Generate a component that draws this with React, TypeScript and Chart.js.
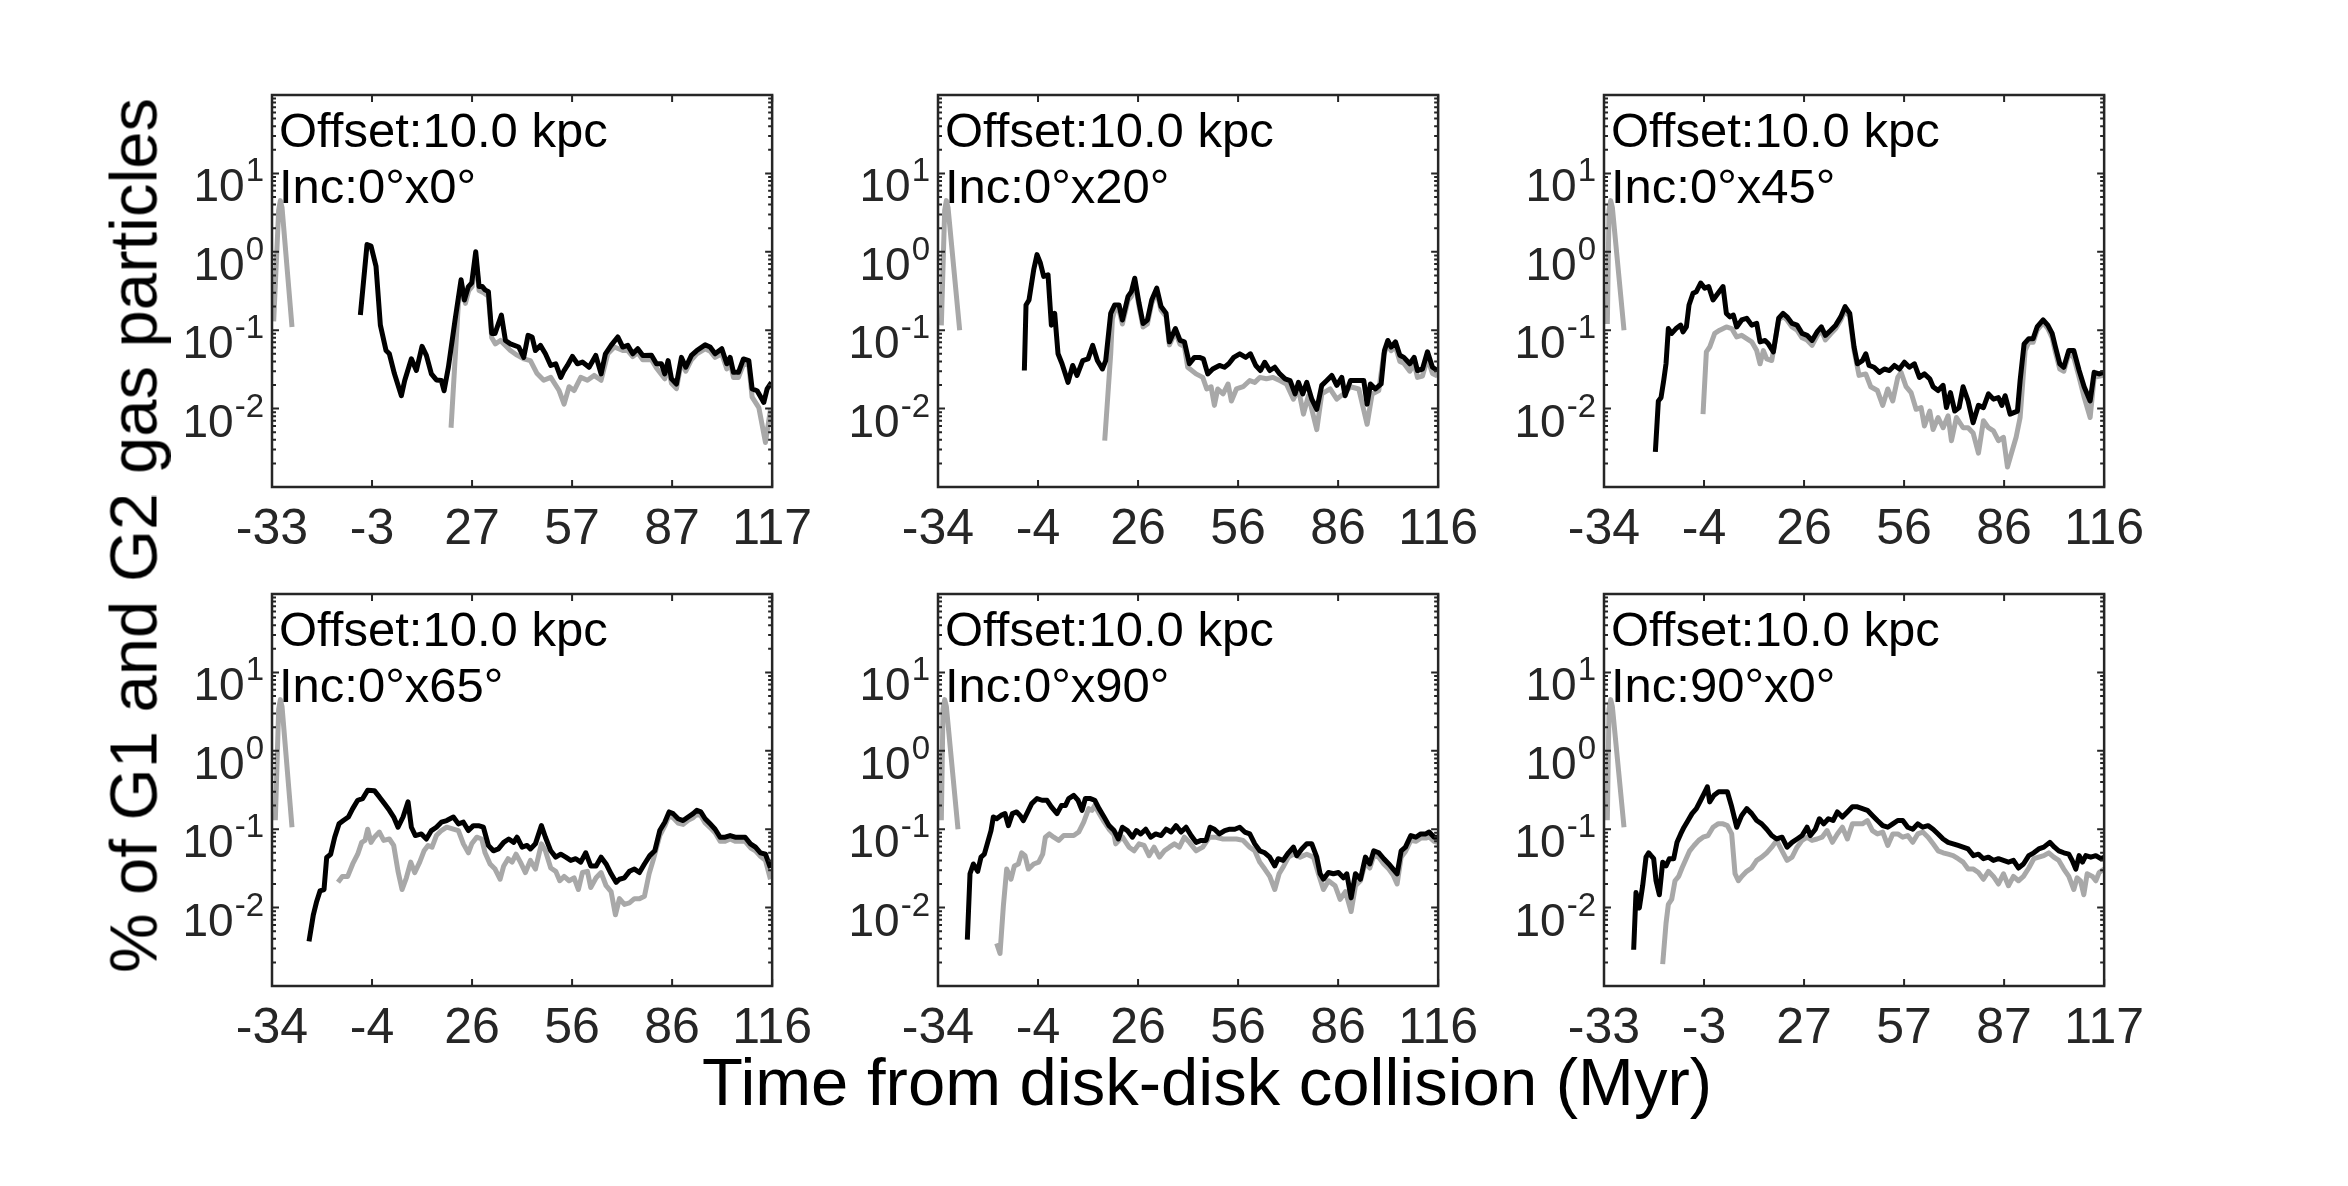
import React, { useEffect, useRef } from 'react';
import { Chart, registerables } from 'chart.js';

Chart.register(...registerables);

type P = [number, number];

const FONT = '"Liberation Sans", Arial, Helvetica, sans-serif';
const AXIS_COLOR = '#262626';
const BLACK = '#000000';
const GRAY = '#a8a8a8';

const X_TITLE = 'Time from disk-disk collision (Myr)';
const Y_TITLE = '% of G1 and G2 gas particles';
const OFFSET_TEXT = 'Offset:10.0 kpc';
const INC_TEXTS = ['Inc:0°x0°', 'Inc:0°x20°', 'Inc:0°x45°', 'Inc:0°x65°', 'Inc:0°x90°', 'Inc:90°x0°'];

const X_TICKS_A = [-33, -3, 27, 57, 87, 117];
const X_TICKS_B = [-34, -4, 26, 56, 86, 116];
const Y_TICKS = [0.01, 0.1, 1, 10];
const Y_TICK_EXP = ['-2', '-1', '0', '1'];
const Y_MIN = 0.001;
const Y_MAX = 100;

// ---------- Panel 1: Inc 0x0 ----------
const P1_BLACK: P[] = [[-6.5,0.156],[-4.5,1.24],[-3.3,1.18],[-1.8,0.65],[-0.5,0.116],[1.2,0.055],[2.2,0.05],[3.7,0.028],[5.8,0.0146],[6.8,0.0228],[8.8,0.0432],[10.3,0.0306],[12.0,0.0622],[13.3,0.0477],[14.8,0.0277],[16.3,0.0232],[17.8,0.0228],[18.6,0.0169],[19.9,0.0337],[21.9,0.135],[23.7,0.44],[24.7,0.243],[25.9,0.36],[26.9,0.4],[28.1,1.0],[29.1,0.36],[30.1,0.36],[30.9,0.327],[31.9,0.31],[32.9,0.091],[33.9,0.091],[35.8,0.156],[37.0,0.074],[38.5,0.067],[41.0,0.061],[42.5,0.045],[43.8,0.086],[45.0,0.082],[46.0,0.055],[47.5,0.064],[49.0,0.05],[50.6,0.0355],[52.1,0.0373],[53.6,0.025],[54.6,0.0306],[55.6,0.0355],[57.1,0.0463],[58.6,0.0373],[60.1,0.0392],[62.1,0.0337],[64.1,0.0477],[65.7,0.0277],[67.0,0.05],[68.7,0.064],[70.7,0.082],[72.2,0.061],[73.7,0.064],[75.2,0.05],[76.7,0.058],[78.2,0.0477],[80.8,0.048],[82.3,0.0373],[83.8,0.0373],[84.8,0.0277],[85.8,0.041],[86.8,0.024],[88.3,0.0206],[89.8,0.045],[91.1,0.0337],[92.8,0.0477],[94.4,0.055],[96.9,0.065],[98.4,0.061],[99.9,0.05],[101.9,0.058],[103.4,0.0373],[104.4,0.045],[105.4,0.029],[106.9,0.029],[108.4,0.043],[110.0,0.041],[111.0,0.0178],[112.5,0.0169],[114.5,0.012],[115.5,0.0178],[116.8,0.0216]];
const P1_GRAY_EARLY: P[] = [[-32.5,0.13],[-31.0,3.4],[-30.5,4.5],[-30.0,3.7],[-27.0,0.11]];
const P1_GRAY: P[] = [[20.7,0.0057],[22.9,0.22],[24.0,0.36],[25.0,0.22],[26.0,0.32],[27.0,0.36],[28.1,0.85],[29.1,0.32],[30.5,0.3],[31.9,0.27],[32.9,0.08],[34.0,0.067],[35.5,0.074],[38.5,0.055],[40.5,0.048],[42.5,0.043],[44.5,0.041],[46.5,0.028],[48.5,0.023],[50.6,0.025],[53.1,0.017],[54.6,0.0114],[56.1,0.019],[57.6,0.017],[59.6,0.025],[61.6,0.023],[63.6,0.0265],[65.7,0.023],[67.7,0.05],[69.7,0.061],[72.2,0.055],[73.7,0.055],[75.2,0.046],[76.7,0.052],[78.2,0.042],[80.8,0.042],[82.3,0.033],[84.8,0.024],[85.8,0.035],[86.8,0.021],[88.3,0.018],[89.8,0.04],[91.1,0.03],[92.8,0.042],[94.4,0.05],[96.9,0.058],[98.4,0.054],[99.9,0.045],[101.9,0.05],[103.4,0.032],[104.4,0.04],[105.4,0.025],[106.9,0.025],[108.4,0.037],[110.0,0.036],[111.0,0.014],[113.0,0.0103],[115.0,0.0037],[116.5,0.0098]];

// ---------- Panel 2: Inc 0x20 ----------
const P2_BLACK: P[] = [[-8.1,0.0306],[-7.6,0.21],[-6.7,0.243],[-5.3,0.59],[-4.3,0.92],[-3.3,0.72],[-2.3,0.486],[-1.0,0.51],[0.0,0.116],[1.0,0.164],[2.0,0.05],[3.2,0.0373],[5.0,0.0216],[6.4,0.0355],[7.7,0.0265],[9.4,0.041],[11.0,0.043],[12.4,0.064],[13.8,0.041],[15.3,0.032],[16.3,0.041],[17.8,0.164],[19.0,0.21],[20.3,0.21],[21.3,0.135],[23.0,0.27],[24.0,0.31],[25.0,0.46],[26.3,0.22],[27.5,0.122],[28.8,0.135],[30.1,0.243],[31.6,0.344],[32.9,0.2],[34.4,0.164],[35.4,0.071],[37.2,0.105],[38.6,0.074],[39.9,0.071],[41.4,0.0373],[42.9,0.045],[44.4,0.045],[45.6,0.043],[46.9,0.0277],[48.4,0.032],[50.4,0.0355],[51.9,0.0337],[53.2,0.0373],[54.7,0.045],[56.5,0.05],[58.3,0.045],[59.7,0.05],[61.3,0.0355],[62.7,0.0306],[64.0,0.039],[65.5,0.0306],[67.0,0.0337],[68.5,0.0277],[70.1,0.024],[71.6,0.0228],[73.1,0.0154],[74.1,0.0216],[75.4,0.0154],[76.6,0.0216],[78.1,0.0132],[79.6,0.0098],[81.1,0.0198],[82.6,0.0228],[84.1,0.0265],[85.6,0.0198],[87.1,0.025],[88.1,0.0146],[89.7,0.0228],[91.7,0.0228],[93.7,0.0228],[94.7,0.0114],[95.7,0.0206],[97.2,0.0178],[98.9,0.0206],[99.9,0.055],[100.9,0.074],[101.9,0.061],[103.2,0.071],[104.5,0.048],[105.7,0.045],[107.5,0.0373],[108.8,0.045],[109.8,0.0306],[111.3,0.032],[112.8,0.053],[114.3,0.0337],[115.8,0.0306]];
const P2_GRAY_EARLY: P[] = [[-33.0,0.115],[-32.0,3.4],[-31.5,4.5],[-31.0,3.7],[-27.5,0.1]];
const P2_GRAY: P[] = [[16.0,0.0039],[17.8,0.05],[18.3,0.14],[19.0,0.18],[20.3,0.18],[21.3,0.12],[23.0,0.24],[24.0,0.27],[25.0,0.42],[26.3,0.2],[27.5,0.11],[28.8,0.12],[30.1,0.22],[31.6,0.31],[32.9,0.18],[34.4,0.15],[35.4,0.065],[37.2,0.095],[38.6,0.066],[39.9,0.062],[40.9,0.0337],[43.4,0.0277],[45.4,0.025],[46.6,0.0178],[47.9,0.019],[48.9,0.011],[49.9,0.0178],[51.5,0.0154],[53.0,0.0206],[54.0,0.0125],[55.5,0.0178],[57.5,0.019],[59.5,0.0228],[61.0,0.0216],[62.5,0.025],[64.5,0.024],[66.5,0.025],[68.5,0.0228],[70.5,0.0206],[72.6,0.0132],[74.1,0.0178],[75.6,0.0085],[77.1,0.0146],[79.6,0.0054],[81.1,0.0154],[83.6,0.0178],[85.6,0.0132],[87.6,0.0154],[89.7,0.019],[92.2,0.0178],[94.7,0.0063],[96.2,0.0154],[98.2,0.017],[99.7,0.05],[100.9,0.064],[101.9,0.055],[103.2,0.062],[104.5,0.04],[105.7,0.038],[107.5,0.03],[108.8,0.038],[109.8,0.025],[111.3,0.026],[112.8,0.044],[114.3,0.028],[115.8,0.026]];

// ---------- Panel 3: Inc 0x45 ----------
const P3_BLACK: P[] = [[-18.6,0.0028],[-17.7,0.0125],[-16.9,0.0138],[-16.1,0.0228],[-15.4,0.0373],[-14.7,0.105],[-13.7,0.091],[-12.4,0.105],[-11.0,0.116],[-10.3,0.095],[-9.3,0.11],[-8.5,0.21],[-7.3,0.296],[-6.3,0.31],[-5.0,0.4],[-3.8,0.344],[-2.6,0.36],[-1.3,0.243],[0.2,0.296],[1.7,0.36],[2.7,0.164],[3.8,0.148],[4.8,0.156],[5.8,0.11],[7.3,0.135],[8.8,0.142],[10.3,0.116],[11.8,0.122],[12.8,0.071],[14.3,0.074],[15.3,0.067],[16.8,0.053],[18.4,0.142],[19.7,0.164],[20.9,0.148],[22.4,0.122],[23.9,0.116],[25.4,0.091],[26.9,0.086],[28.4,0.074],[29.9,0.095],[31.2,0.11],[32.4,0.086],[34.0,0.1],[35.5,0.116],[37.0,0.148],[38.3,0.2],[39.7,0.164],[41.0,0.061],[42.0,0.0373],[43.5,0.041],[44.5,0.05],[45.5,0.0355],[47.0,0.0337],[48.6,0.029],[50.1,0.032],[51.6,0.0306],[53.1,0.0355],[54.6,0.032],[56.1,0.039],[57.6,0.0337],[59.1,0.0373],[60.6,0.025],[62.1,0.0277],[63.7,0.024],[64.7,0.019],[66.2,0.017],[67.7,0.0198],[68.7,0.0103],[69.9,0.016],[71.2,0.0093],[72.5,0.0103],[73.7,0.019],[75.2,0.0125],[76.7,0.0066],[78.3,0.011],[79.8,0.0103],[81.3,0.0154],[82.8,0.0132],[84.3,0.0138],[85.3,0.011],[86.3,0.0146],[87.8,0.0085],[90.0,0.0093],[90.8,0.0228],[92.0,0.067],[93.4,0.078],[94.7,0.078],[95.9,0.11],[97.7,0.135],[99.1,0.116],[100.4,0.091],[101.4,0.061],[102.7,0.0373],[103.9,0.0337],[105.4,0.055],[106.9,0.055],[108.5,0.0306],[110.0,0.019],[111.8,0.0125],[113.0,0.029],[114.5,0.0277],[115.8,0.029]];
const P3_GRAY_EARLY: P[] = [[-33.0,0.12],[-32.5,3.4],[-32.0,4.5],[-31.5,3.7],[-28.0,0.1]];
const P3_GRAY: P[] = [[-4.3,0.0085],[-3.3,0.053],[-2.3,0.061],[-0.8,0.091],[0.7,0.1],[2.7,0.11],[4.3,0.105],[5.8,0.082],[7.3,0.086],[8.8,0.078],[10.3,0.071],[11.8,0.055],[12.8,0.0373],[13.8,0.055],[14.8,0.043],[16.3,0.041],[18.4,0.135],[19.7,0.15],[20.9,0.135],[22.4,0.11],[23.9,0.1],[25.4,0.08],[26.9,0.075],[28.4,0.064],[29.9,0.085],[31.2,0.1],[32.4,0.075],[34.0,0.09],[35.5,0.105],[37.0,0.135],[38.3,0.18],[39.7,0.15],[41.0,0.055],[42.5,0.0265],[44.5,0.0277],[46.0,0.019],[48.0,0.017],[49.6,0.011],[51.1,0.0178],[52.6,0.0125],[54.1,0.025],[55.1,0.029],[56.6,0.019],[58.1,0.016],[59.6,0.0098],[61.1,0.0103],[62.1,0.006],[63.7,0.0093],[64.7,0.0054],[66.2,0.0077],[67.7,0.0057],[69.2,0.0081],[70.2,0.0039],[71.7,0.0077],[73.7,0.0057],[75.2,0.0057],[76.7,0.0049],[78.3,0.0027],[79.8,0.007],[81.3,0.0057],[82.8,0.0052],[84.3,0.0039],[85.8,0.0043],[87.0,0.0018],[88.3,0.0028],[89.6,0.0043],[90.8,0.0077],[92.3,0.055],[93.4,0.07],[94.7,0.07],[95.9,0.1],[97.7,0.125],[99.1,0.105],[100.4,0.08],[101.4,0.052],[102.7,0.032],[103.9,0.03],[105.4,0.05],[106.9,0.045],[108.5,0.025],[110.0,0.014],[111.8,0.0077],[113.0,0.025],[115.8,0.0265]];

// ---------- Panel 4: Inc 0x65 ----------
const P4_BLACK: P[] = [[-22.9,0.0037],[-21.6,0.0081],[-20.6,0.012],[-19.6,0.0163],[-18.4,0.017],[-17.6,0.0436],[-16.4,0.048],[-15.2,0.079],[-13.9,0.117],[-12.6,0.129],[-11.1,0.143],[-9.8,0.183],[-8.3,0.234],[-6.8,0.246],[-5.3,0.314],[-3.3,0.31],[-1.8,0.258],[-0.3,0.212],[1.2,0.174],[2.5,0.143],[3.8,0.106],[5.3,0.143],[6.8,0.223],[7.8,0.106],[9.0,0.083],[10.8,0.087],[12.3,0.075],[13.8,0.096],[15.3,0.106],[16.8,0.123],[18.4,0.129],[20.4,0.143],[21.9,0.117],[23.4,0.123],[24.9,0.096],[26.4,0.111],[27.9,0.111],[29.4,0.106],[30.9,0.062],[32.4,0.053],[33.9,0.056],[35.5,0.068],[37.0,0.075],[38.5,0.068],[39.5,0.079],[41.0,0.059],[42.5,0.062],[43.5,0.056],[45.0,0.065],[46.8,0.111],[48.0,0.079],[49.6,0.053],[51.1,0.044],[52.6,0.048],[54.1,0.044],[55.6,0.04],[57.1,0.042],[58.6,0.038],[60.1,0.05],[61.6,0.034],[63.2,0.034],[64.7,0.044],[66.2,0.036],[67.7,0.027],[69.2,0.021],[70.2,0.023],[71.7,0.024],[73.2,0.029],[74.7,0.031],[76.2,0.028],[77.7,0.036],[79.3,0.046],[80.8,0.053],[82.3,0.096],[83.8,0.123],[85.1,0.166],[86.3,0.158],[87.8,0.136],[89.3,0.129],[90.8,0.143],[92.3,0.158],[93.4,0.174],[94.6,0.166],[95.9,0.136],[97.4,0.117],[98.9,0.1],[100.4,0.079],[101.9,0.079],[103.4,0.083],[104.9,0.079],[106.4,0.079],[107.9,0.079],[109.5,0.065],[111.0,0.059],[112.5,0.05],[114.0,0.048],[115.5,0.032]];
const P4_GRAY_EARLY: P[] = [[-33.0,0.13],[-32.0,3.4],[-31.5,4.5],[-31.0,3.7],[-28.0,0.106]];
const P4_GRAY: P[] = [[-14.2,0.021],[-12.9,0.025],[-11.3,0.025],[-9.8,0.036],[-8.3,0.048],[-7.1,0.068],[-6.1,0.072],[-5.3,0.1],[-4.3,0.068],[-3.3,0.079],[-1.8,0.092],[-0.5,0.072],[1.2,0.075],[2.5,0.062],[3.8,0.029],[5.0,0.017],[6.3,0.024],[7.6,0.038],[8.8,0.028],[10.3,0.038],[11.6,0.053],[12.8,0.062],[14.0,0.059],[15.3,0.083],[16.8,0.096],[18.4,0.106],[20.4,0.1],[21.9,0.096],[23.4,0.065],[24.9,0.05],[25.9,0.065],[27.4,0.079],[28.9,0.075],[29.9,0.05],[31.4,0.036],[32.9,0.031],[34.4,0.023],[35.5,0.034],[36.8,0.042],[38.0,0.038],[39.2,0.048],[40.5,0.038],[42.0,0.028],[43.5,0.04],[45.0,0.031],[46.8,0.065],[48.0,0.053],[49.6,0.032],[51.1,0.029],[52.3,0.022],[53.6,0.025],[55.1,0.022],[56.6,0.024],[57.9,0.017],[59.1,0.028],[60.6,0.029],[61.6,0.018],[63.2,0.024],[64.7,0.028],[66.2,0.019],[67.7,0.016],[69.0,0.0081],[70.2,0.013],[71.7,0.011],[73.2,0.0115],[74.7,0.013],[76.2,0.013],[77.7,0.014],[79.1,0.027],[80.3,0.04],[82.3,0.083],[83.8,0.11],[85.1,0.15],[86.3,0.14],[87.8,0.12],[89.3,0.115],[90.8,0.13],[92.3,0.14],[93.4,0.155],[94.6,0.15],[95.9,0.12],[97.4,0.105],[98.9,0.09],[100.4,0.07],[101.9,0.07],[103.4,0.075],[104.9,0.07],[106.4,0.07],[107.9,0.07],[109.5,0.058],[111.0,0.053],[112.5,0.045],[114.0,0.04],[115.5,0.023]];

// ---------- Panel 5: Inc 0x90 ----------
const P5_BLACK: P[] = [[-25.2,0.0039],[-24.4,0.027],[-23.4,0.036],[-22.1,0.029],[-21.1,0.044],[-20.1,0.048],[-19.1,0.068],[-18.1,0.096],[-17.4,0.143],[-16.4,0.136],[-15.1,0.15],[-13.9,0.158],[-12.9,0.111],[-11.7,0.158],[-10.4,0.166],[-9.4,0.15],[-8.4,0.129],[-7.1,0.166],[-5.9,0.212],[-4.3,0.246],[-2.8,0.234],[-1.3,0.234],[0.0,0.193],[1.7,0.158],[3.0,0.2],[4.2,0.2],[5.2,0.246],[6.7,0.27],[8.0,0.234],[9.2,0.174],[10.2,0.246],[11.7,0.246],[13.0,0.234],[14.3,0.183],[15.8,0.143],[17.3,0.111],[18.8,0.096],[20.1,0.075],[21.3,0.106],[22.8,0.096],[24.3,0.079],[25.5,0.096],[26.8,0.087],[28.3,0.1],[29.8,0.079],[31.3,0.087],[32.9,0.083],[34.4,0.1],[35.9,0.092],[37.4,0.111],[38.9,0.092],[40.4,0.106],[41.9,0.083],[43.4,0.068],[44.9,0.072],[46.4,0.072],[47.6,0.106],[48.9,0.1],[50.4,0.087],[52.0,0.096],[53.5,0.1],[55.0,0.1],[56.5,0.106],[58.0,0.092],[59.5,0.087],[61.0,0.065],[62.5,0.053],[64.0,0.05],[65.5,0.044],[67.0,0.034],[68.0,0.042],[69.5,0.04],[71.1,0.05],[72.6,0.059],[73.6,0.046],[75.1,0.056],[76.6,0.065],[78.1,0.065],[79.6,0.044],[80.6,0.027],[81.6,0.023],[83.1,0.028],[84.6,0.027],[86.1,0.028],[87.6,0.024],[88.6,0.027],[89.9,0.0133],[91.2,0.027],[92.7,0.023],[94.2,0.044],[95.5,0.036],[96.7,0.053],[98.2,0.05],[99.7,0.042],[101.2,0.036],[102.5,0.031],[103.7,0.027],[104.9,0.053],[106.2,0.059],[107.8,0.083],[109.3,0.079],[110.8,0.087],[112.3,0.087],[113.3,0.092],[114.8,0.079],[115.8,0.079]];
const P5_GRAY_EARLY: P[] = [[-33.0,0.13],[-32.5,3.4],[-32.0,4.5],[-31.5,3.7],[-28.0,0.1]];
const P5_GRAY: P[] = [[-16.4,0.0035],[-15.4,0.0026],[-14.4,0.0104],[-13.4,0.031],[-12.1,0.023],[-11.1,0.034],[-9.9,0.036],[-8.9,0.05],[-7.9,0.046],[-6.9,0.031],[-5.3,0.036],[-3.8,0.038],[-2.6,0.048],[-1.8,0.079],[-0.6,0.087],[0.7,0.079],[2.2,0.072],[3.7,0.083],[5.2,0.083],[6.7,0.083],[8.2,0.092],[9.7,0.123],[11.2,0.183],[12.2,0.174],[13.0,0.2],[14.3,0.16],[15.8,0.125],[17.3,0.1],[18.8,0.085],[19.3,0.065],[21.3,0.08],[23.3,0.059],[24.8,0.053],[26.3,0.065],[27.8,0.062],[29.3,0.046],[30.8,0.059],[32.4,0.044],[33.9,0.053],[35.4,0.059],[36.9,0.065],[38.4,0.059],[39.9,0.079],[41.4,0.068],[43.4,0.053],[45.4,0.059],[47.4,0.079],[49.4,0.079],[51.5,0.075],[53.5,0.075],[55.5,0.075],[57.5,0.072],[59.5,0.059],[61.0,0.053],[62.5,0.038],[64.0,0.031],[65.5,0.025],[67.0,0.017],[68.3,0.027],[69.7,0.034],[71.1,0.044],[72.6,0.048],[74.6,0.044],[76.6,0.048],[78.6,0.044],[80.1,0.027],[81.6,0.017],[83.1,0.022],[85.1,0.019],[86.6,0.0127],[88.2,0.016],[89.9,0.0089],[91.2,0.019],[92.7,0.022],[94.2,0.038],[95.5,0.032],[96.7,0.046],[98.2,0.044],[99.7,0.036],[101.2,0.031],[102.5,0.026],[103.7,0.02],[104.9,0.044],[106.2,0.052],[107.8,0.072],[109.3,0.07],[110.8,0.077],[112.3,0.077],[113.3,0.08],[114.8,0.07],[115.8,0.068]];

// ---------- Panel 6: Inc 90x0 ----------
const P6_BLACK: P[] = [[-24.1,0.0029],[-23.4,0.0156],[-22.4,0.0099],[-21.4,0.019],[-20.4,0.044],[-19.6,0.05],[-18.9,0.046],[-18.1,0.042],[-17.4,0.022],[-16.4,0.0146],[-15.4,0.038],[-14.4,0.034],[-13.4,0.042],[-12.1,0.042],[-11.1,0.068],[-10.0,0.087],[-9.0,0.106],[-7.8,0.129],[-6.6,0.158],[-5.3,0.183],[-4.0,0.234],[-3.0,0.285],[-2.0,0.347],[-1.3,0.223],[0.0,0.271],[1.4,0.3],[2.7,0.3],[4.0,0.3],[5.3,0.193],[6.8,0.106],[8.3,0.15],[9.8,0.183],[11.3,0.158],[12.8,0.129],[14.3,0.117],[15.8,0.1],[17.3,0.083],[18.8,0.075],[20.4,0.079],[21.9,0.059],[23.4,0.068],[24.9,0.075],[26.4,0.083],[27.9,0.106],[28.9,0.083],[30.4,0.1],[31.6,0.136],[32.9,0.117],[34.3,0.136],[35.7,0.129],[37.0,0.166],[38.5,0.143],[40.0,0.166],[41.5,0.193],[43.0,0.193],[44.5,0.183],[46.0,0.174],[47.5,0.15],[49.0,0.129],[50.6,0.111],[52.1,0.106],[53.6,0.117],[55.1,0.129],[56.6,0.129],[58.1,0.106],[59.6,0.1],[61.1,0.117],[62.6,0.106],[64.2,0.111],[65.7,0.1],[67.2,0.087],[68.7,0.075],[70.2,0.068],[71.7,0.065],[73.2,0.062],[74.7,0.059],[76.2,0.056],[77.8,0.046],[79.3,0.048],[80.8,0.042],[82.3,0.044],[83.8,0.04],[85.3,0.042],[86.8,0.04],[88.3,0.038],[89.8,0.04],[91.3,0.032],[92.8,0.036],[94.4,0.046],[95.9,0.05],[97.4,0.056],[98.9,0.059],[100.7,0.068],[102.1,0.059],[103.4,0.053],[104.9,0.05],[106.4,0.048],[107.4,0.04],[108.5,0.031],[109.5,0.046],[110.5,0.038],[111.5,0.046],[113.0,0.044],[114.5,0.046],[116.0,0.042],[117.0,0.044]];
const P6_GRAY_EARLY: P[] = [[-32.0,0.13],[-31.5,3.4],[-31.0,4.5],[-30.5,3.7],[-27.0,0.106]];
const P6_GRAY: P[] = [[-15.4,0.0019],[-14.4,0.0063],[-13.7,0.011],[-12.7,0.0127],[-11.7,0.022],[-10.6,0.025],[-9.6,0.032],[-8.6,0.04],[-7.3,0.053],[-6.0,0.062],[-4.6,0.072],[-3.3,0.079],[-1.8,0.083],[-0.3,0.106],[1.2,0.117],[2.7,0.117],[4.0,0.111],[5.3,0.087],[6.3,0.027],[7.3,0.022],[8.3,0.025],[9.8,0.029],[11.3,0.032],[12.8,0.04],[14.3,0.044],[15.8,0.05],[17.3,0.059],[18.8,0.072],[20.4,0.053],[21.9,0.04],[23.4,0.044],[24.9,0.059],[26.4,0.072],[27.9,0.079],[29.4,0.072],[30.9,0.075],[32.4,0.079],[33.9,0.096],[35.5,0.068],[37.0,0.087],[38.5,0.106],[40.0,0.075],[41.5,0.117],[43.0,0.117],[44.5,0.117],[46.0,0.129],[47.5,0.096],[49.0,0.087],[50.6,0.092],[52.1,0.062],[53.6,0.087],[55.1,0.087],[56.6,0.079],[58.1,0.083],[59.6,0.068],[61.1,0.087],[62.6,0.092],[64.2,0.079],[65.7,0.065],[67.2,0.053],[68.7,0.05],[70.2,0.048],[71.7,0.046],[73.2,0.042],[74.7,0.038],[76.2,0.031],[77.8,0.031],[79.3,0.028],[80.8,0.023],[82.3,0.029],[83.8,0.025],[85.3,0.02],[86.8,0.027],[88.3,0.019],[89.8,0.025],[91.3,0.022],[92.8,0.025],[94.4,0.032],[95.9,0.042],[97.4,0.044],[98.9,0.046],[100.4,0.05],[101.9,0.044],[103.4,0.04],[104.9,0.031],[106.4,0.025],[107.9,0.017],[108.9,0.024],[109.9,0.022],[110.9,0.0146],[111.9,0.027],[113.5,0.025],[114.5,0.022],[115.5,0.028],[117.0,0.031]];

// ---------- layout (pixels) ----------
const COL_LEFT = [272, 938, 1604];
const ROW_TOP = [95, 594];
const PLOT_W = 503;
const PLOT_H = 392;
const Y_AXIS_W = 110;
const X_AXIS_H = 80;
const PAD_TOP = 10;
const PAD_RIGHT = 50;
const LINE_W = 5;

interface PanelCfg {
  inc: string;
  xTicks: number[];
  black: P[];
  grayEarly: P[];
  gray: P[];
}

const PANELS: PanelCfg[] = [
  { inc: INC_TEXTS[0], xTicks: X_TICKS_A, black: P1_BLACK, grayEarly: P1_GRAY_EARLY, gray: P1_GRAY },
  { inc: INC_TEXTS[1], xTicks: X_TICKS_B, black: P2_BLACK, grayEarly: P2_GRAY_EARLY, gray: P2_GRAY },
  { inc: INC_TEXTS[2], xTicks: X_TICKS_B, black: P3_BLACK, grayEarly: P3_GRAY_EARLY, gray: P3_GRAY },
  { inc: INC_TEXTS[3], xTicks: X_TICKS_B, black: P4_BLACK, grayEarly: P4_GRAY_EARLY, gray: P4_GRAY },
  { inc: INC_TEXTS[4], xTicks: X_TICKS_B, black: P5_BLACK, grayEarly: P5_GRAY_EARLY, gray: P5_GRAY },
  { inc: INC_TEXTS[5], xTicks: X_TICKS_A, black: P6_BLACK, grayEarly: P6_GRAY_EARLY, gray: P6_GRAY },
];

function toXY(arr: P[]) {
  return arr.map(([x, y]) => ({ x, y }));
}

function makeAxesPlugin(cfg: PanelCfg) {
  return {
    id: 'matlabAxes',
    afterDraw(chart: any) {
      const ctx: CanvasRenderingContext2D = chart.ctx;
      const { left, right, top, bottom } = chart.chartArea;
      const xs = chart.scales.x;
      const ys = chart.scales.y;
      const MAJ = 7;
      const MIN = 4;
      ctx.save();
      ctx.strokeStyle = AXIS_COLOR;
      ctx.lineWidth = 2;
      ctx.beginPath();
      for (const t of xs.ticks) {
        const px = xs.getPixelForValue(t.value);
        ctx.moveTo(px, bottom);
        ctx.lineTo(px, bottom - MAJ);
        ctx.moveTo(px, top);
        ctx.lineTo(px, top + MAJ);
      }
      const eMin = Math.round(Math.log10(Y_MIN));
      const eMax = Math.round(Math.log10(Y_MAX));
      for (let e = eMin; e <= eMax; e++) {
        for (let m = 1; m <= 9; m++) {
          if (e === eMax && m > 1) break;
          const v = m * Math.pow(10, e);
          const py = ys.getPixelForValue(v);
          const len = m === 1 ? MAJ : MIN;
          ctx.moveTo(left, py);
          ctx.lineTo(left + len, py);
          ctx.moveTo(right, py);
          ctx.lineTo(right - len, py);
        }
      }
      ctx.stroke();
      ctx.lineWidth = 2.5;
      ctx.strokeRect(left, top, right - left, bottom - top);

      // y tick labels: "10" with superscript exponent
      ctx.fillStyle = AXIS_COLOR;
      ctx.textAlign = 'right';
      ctx.textBaseline = 'alphabetic';
      const xr = left - 8;
      Y_TICKS.forEach((v, i) => {
        const py = ys.getPixelForValue(v);
        const exp = Y_TICK_EXP[i];
        ctx.font = `33px ${FONT}`;
        const ew = ctx.measureText(exp).width;
        ctx.fillText(exp, xr, py + 8);
        ctx.font = `46px ${FONT}`;
        ctx.fillText('10', xr - ew - 1, py + 28);
      });

      // annotations
      ctx.fillStyle = '#000000';
      ctx.textAlign = 'left';
      ctx.font = `49px ${FONT}`;
      ctx.fillText(OFFSET_TEXT, left + 7, top + 52);
      ctx.fillText(cfg.inc, left + 7, top + 108);
      ctx.restore();
    },
  };
}

function Panel({ cfg, col, row }: { cfg: PanelCfg; col: number; row: number }) {
  const ref = useRef<HTMLCanvasElement | null>(null);
  const cw = Y_AXIS_W + PLOT_W + PAD_RIGHT;
  const ch = PAD_TOP + PLOT_H + X_AXIS_H;
  useEffect(() => {
    if (!ref.current) return;
    const grayData: any[] = [
      ...toXY(cfg.grayEarly),
      { x: (cfg.grayEarly[cfg.grayEarly.length - 1][0] + cfg.gray[0][0]) / 2, y: null },
      ...toXY(cfg.gray),
    ];
    const chart = new Chart(ref.current, {
      type: 'line',
      data: {
        datasets: [
          {
            label: 'G1',
            data: toXY(cfg.black),
            borderColor: BLACK,
            borderWidth: LINE_W,
            pointRadius: 0,
            tension: 0,
            fill: false,
            borderJoinStyle: 'round',
          },
          {
            label: 'G2',
            data: grayData,
            borderColor: GRAY,
            borderWidth: LINE_W,
            pointRadius: 0,
            tension: 0,
            fill: false,
            spanGaps: false,
            borderJoinStyle: 'round',
          },
        ],
      } as any,
      options: {
        animation: false,
        responsive: false,
        maintainAspectRatio: false,
        devicePixelRatio: 1,
        events: [],
        layout: { padding: { top: PAD_TOP, right: PAD_RIGHT, left: 0, bottom: 0 } },
        plugins: { legend: { display: false }, tooltip: { enabled: false } },
        scales: {
          x: {
            type: 'linear',
            min: cfg.xTicks[0],
            max: cfg.xTicks[cfg.xTicks.length - 1],
            afterBuildTicks: (s: any) => {
              s.ticks = cfg.xTicks.map((v) => ({ value: v }));
            },
            afterFit: (s: any) => {
              s.height = X_AXIS_H;
            },
            ticks: {
              autoSkip: false,
              maxRotation: 0,
              minRotation: 0,
              padding: 13,
              color: AXIS_COLOR,
              font: { family: FONT, size: 50 },
              callback: (v: any) => String(v),
            },
            grid: { display: false, drawTicks: false },
            border: { display: false },
          },
          y: {
            type: 'logarithmic',
            min: Y_MIN,
            max: Y_MAX,
            afterFit: (s: any) => {
              s.width = Y_AXIS_W;
            },
            ticks: { display: false },
            grid: { display: false, drawTicks: false },
            border: { display: false },
          },
        },
      } as any,
      plugins: [makeAxesPlugin(cfg)],
    });
    return () => chart.destroy();
  }, [cfg]);
  return (
    <canvas
      ref={ref}
      width={cw}
      height={ch}
      style={{
        position: 'absolute',
        left: COL_LEFT[col] - Y_AXIS_W,
        top: ROW_TOP[row] - PAD_TOP,
        width: cw,
        height: ch,
      }}
    />
  );
}

export default function App() {
  return (
    <div
      style={{
        position: 'absolute',
        left: 0,
        top: 0,
        width: 2348,
        height: 1186,
        background: '#ffffff',
        overflow: 'hidden',
        fontFamily: FONT,
      }}
    >
      {PANELS.map((cfg, i) => (
        <Panel key={i} cfg={cfg} col={i % 3} row={Math.floor(i / 3)} />
      ))}
      <div
        style={{
          position: 'absolute',
          left: 1207 - 700,
          top: 1048,
          width: 1400,
          height: 67,
          lineHeight: '67px',
          fontSize: 67,
          textAlign: 'center',
          color: '#000000',
          whiteSpace: 'nowrap',
        }}
      >
        {X_TITLE}
      </div>
      <div
        style={{
          position: 'absolute',
          left: 133 - 600,
          top: 535 - 33.5,
          width: 1200,
          height: 67,
          lineHeight: '67px',
          fontSize: 67,
          textAlign: 'center',
          color: '#000000',
          whiteSpace: 'nowrap',
          transform: 'rotate(-90deg)',
          transformOrigin: '50% 50%',
        }}
      >
        {Y_TITLE}
      </div>
    </div>
  );
}
